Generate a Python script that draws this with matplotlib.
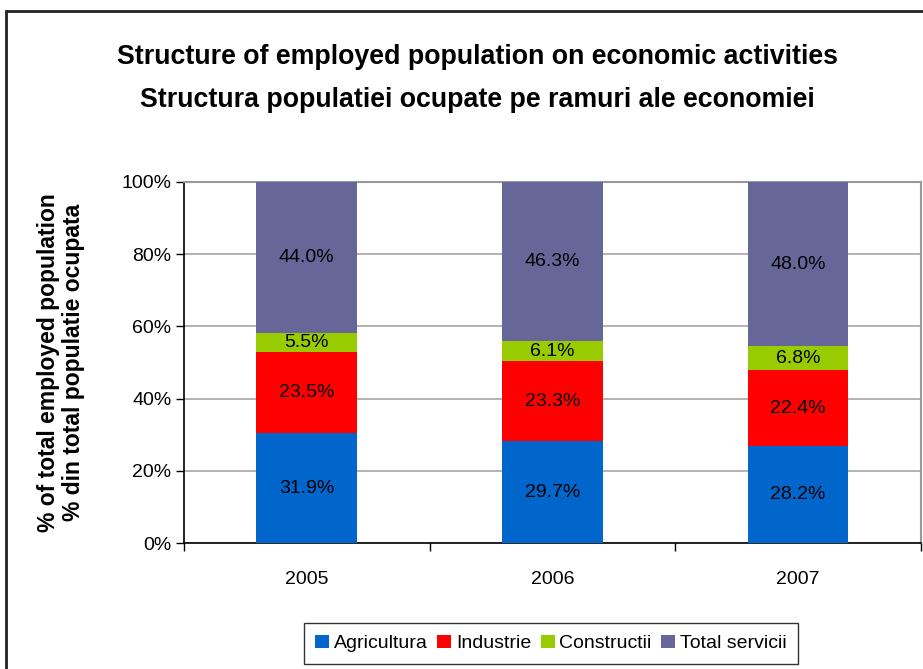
import numpy as np
import matplotlib
matplotlib.use("Agg")
import matplotlib.pyplot as plt
from matplotlib.patches import Rectangle

plt.rcParams['font.family'] = ['Liberation Sans', 'DejaVu Sans']

# data (raw labels, bars are drawn as 100% stacked)
years = ["2005", "2006", "2007"]
agricultura = [31.9, 29.7, 28.2]
industrie = [23.5, 23.3, 22.4]
constructii = [5.5, 6.1, 6.8]
servicii = [44.0, 46.3, 48.0]

series = [
    ("Agricultura", agricultura, "#0066CC"),
    ("Industrie", industrie, "#FF0000"),
    ("Constructii", constructii, "#99CC00"),
    ("Total servicii", servicii, "#666699"),
]

totals = np.sum([s[1] for s in series], axis=0)
x = np.arange(len(years))

fig = plt.figure(figsize=(9.23, 6.69), dpi=100)
ax = fig.add_axes([0.1993, 0.1883, 0.7985, 0.5397])

bottom = np.zeros(len(years))
for name, vals, color in series:
    h = np.array(vals) / totals * 100
    ax.bar(x, h, width=0.41, bottom=bottom, color=color, label=name, zorder=3)
    for xi, b, hh, v in zip(x, bottom, h, vals):
        ax.text(xi, b + hh / 2, f"{v:.1f}%", ha="center", va="center",
                fontsize=14, color="black", zorder=4)
    bottom += h

ax.set_xlim(-0.5, 2.5)
ax.set_ylim(0, 100)
ax.set_yticks(np.arange(0, 101, 20))
ax.set_yticklabels([f"{v}%" for v in range(0, 101, 20)], fontsize=14)
ax.yaxis.grid(True, color="#A6A6A6", linewidth=1.2, zorder=0)

# category labels centred, ticks on category boundaries
ax.set_xticks([-0.5, 0.5, 1.5, 2.5])
ax.set_xticklabels([])
ax.set_xticks(x, minor=True)
ax.set_xticklabels(years, minor=True, fontsize=14)
ax.tick_params(axis="x", which="minor", length=0, pad=20)
ax.tick_params(axis="x", which="major", length=6, width=1, direction="out")
ax.tick_params(axis="y", length=6, width=1, direction="out", pad=3)

for side in ["left", "bottom"]:
    ax.spines[side].set_color("black")
    ax.spines[side].set_linewidth(1.2)
for side in ["top", "right"]:
    ax.spines[side].set_color("#999999")
    ax.spines[side].set_linewidth(1.5)

ax.set_ylabel("% of total employed population\n% din total populatie ocupata",
              fontsize=16.5, fontweight="bold", labelpad=26, linespacing=1.15)

fig.text(0.517, 0.915, "Structure of employed population on economic activities",
         ha="center", va="center", fontsize=19.3, fontweight="bold")
fig.text(0.517, 0.851, "Structura populatiei ocupate pe ramuri ale economiei",
         ha="center", va="center", fontsize=19.3, fontweight="bold")

leg = ax.legend(loc="center", bbox_to_anchor=(0.597, 0.038),
                bbox_transform=fig.transFigure, ncol=4, fontsize=14,
                frameon=True, fancybox=False, handlelength=0.7,
                handleheight=0.7, handletextpad=0.25, columnspacing=0.5,
                borderpad=0.6)
leg.get_frame().set_edgecolor("black")
leg.get_frame().set_linewidth(1.0)

# outer chart border (cut off on the right and bottom in the original)
fig.patches.append(Rectangle((0.0065, -0.05), 1.2, 1.0336,
                             transform=fig.transFigure, fill=False,
                             edgecolor="#222222", linewidth=2))

fig.savefig("out.png", dpi=100)
